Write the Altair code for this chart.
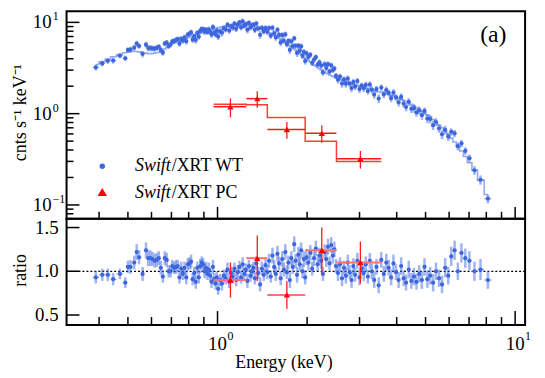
import altair as alt
import numpy as np
import pandas as pd

FONT = "Liberation Serif"

# ---------------- Swift/XRT WT spectrum ----------------
wt_energy = [
    0.390, 0.410, 0.428, 0.446, 0.470, 0.490, 0.500, 0.510, 0.525, 0.535,
    0.545, 0.560, 0.575, 0.585, 0.595, 0.605, 0.615, 0.625, 0.635, 0.645,
    0.655, 0.665, 0.675, 0.685, 0.695,
    0.705, 0.715, 0.725, 0.735, 0.745, 0.755, 0.765, 0.775, 0.785, 0.795,
    0.805, 0.815, 0.825, 0.835, 0.845, 0.855, 0.865, 0.875, 0.885, 0.895,
    0.905, 0.915, 0.925, 0.935, 0.945, 0.955, 0.965, 0.975, 0.985, 0.995,
    1.005, 1.020, 1.035, 1.050, 1.065, 1.080, 1.095, 1.110, 1.125, 1.140,
    1.155, 1.170, 1.185, 1.200, 1.215, 1.230, 1.245, 1.260, 1.275, 1.290,
    1.305, 1.320, 1.335, 1.350, 1.370, 1.390, 1.410, 1.430, 1.450, 1.470,
    1.490, 1.510, 1.530, 1.550, 1.570, 1.590, 1.610, 1.630, 1.650, 1.670,
    1.690, 1.710, 1.730, 1.750, 1.770, 1.790, 1.810, 1.830, 1.850, 1.870,
    1.890, 1.910, 1.930, 1.950, 1.970, 1.990,
    2.02, 2.05, 2.08, 2.11, 2.14, 2.17, 2.20, 2.23, 2.26, 2.29,
    2.32, 2.35, 2.38, 2.41, 2.44, 2.47, 2.50, 2.54, 2.58, 2.62,
    2.66, 2.70, 2.74, 2.78, 2.82, 2.86, 2.90, 2.95, 3.00, 3.05,
    3.10, 3.15, 3.20, 3.25, 3.30, 3.36, 3.42, 3.48,
    3.55, 3.62, 3.69, 3.76, 3.83, 3.90, 3.98, 4.06, 4.14, 4.22,
    4.30, 4.39, 4.48, 4.57, 4.66, 4.76, 4.86, 4.96, 5.07, 5.18,
    5.30, 5.42, 5.55, 5.68, 5.82, 5.96, 6.10, 6.26, 6.42, 6.60,
    6.80, 7.02, 7.30, 7.65, 8.10,
]

wt_model = [
    3.45, 3.70, 3.95, 4.20, 4.45, 4.65, 4.75, 4.80, 4.80, 4.80,
    4.75, 4.65, 4.60, 4.55, 4.55, 4.55, 4.60, 4.65, 4.70, 4.80,
    4.95, 5.10, 5.30, 5.50, 5.70,
    5.85, 6.00, 6.10, 6.20, 6.30, 6.40, 6.50, 6.60, 6.70, 6.80,
    6.90, 7.00, 7.10, 7.20, 7.30, 7.40, 7.50, 7.60, 7.70, 7.80,
    7.90, 8.00, 8.10, 8.20, 8.30, 8.35, 8.45, 8.55, 8.60, 8.70,
    8.75, 8.85, 8.95, 9.05, 9.10, 9.20, 9.25, 9.30, 9.35, 9.40,
    9.45, 9.50, 9.50, 9.50, 9.50, 9.45, 9.40, 9.35, 9.30, 9.25,
    9.20, 9.10, 9.00, 8.90, 8.75, 8.60, 8.45, 8.30, 8.10, 7.95,
    7.75, 7.60, 7.40, 7.25, 7.05, 6.90, 6.70, 6.55, 6.35, 6.20,
    6.05, 5.85, 5.70, 5.55, 5.40, 5.25, 5.10, 4.95, 4.80, 4.65,
    4.55, 4.40, 4.30, 4.15, 4.05, 3.95,
    3.80, 3.65, 3.50, 3.40, 3.30, 3.20, 3.10, 3.00, 2.92, 2.85,
    2.78, 2.72, 2.66, 2.60, 2.55, 2.50, 2.45, 2.40, 2.36, 2.32,
    2.28, 2.24, 2.20, 2.16, 2.12, 2.09, 2.06, 2.03, 2.00, 1.97,
    1.94, 1.91, 1.88, 1.86, 1.83, 1.80, 1.77, 1.74,
    1.71, 1.68, 1.65, 1.62, 1.59, 1.56, 1.52, 1.48, 1.44, 1.40,
    1.36, 1.32, 1.27, 1.22, 1.17, 1.12, 1.07, 1.02, 0.97, 0.92,
    0.86, 0.81, 0.75, 0.70, 0.64, 0.59, 0.54, 0.49, 0.44, 0.39,
    0.34, 0.29, 0.24, 0.185, 0.13,
]

wt_ratio = [
    0.93, 0.96, 0.96, 0.91, 0.97, 0.87, 1.05, 1.05, 1.10, 1.22,
    1.16, 0.97, 1.24, 1.15, 1.15, 1.14, 1.12, 1.13, 1.15, 1.04,
    0.94, 1.15, 1.13, 1.00, 1.00,
    1.06, 1.04, 1.05, 1.06, 0.93, 1.03, 0.97, 1.04, 0.93, 1.08,
    1.09, 1.11, 0.91, 0.98, 0.88, 1.04, 0.93, 1.06, 1.10, 1.08,
    1.00, 1.04, 0.97, 1.02, 0.95, 0.88, 1.05, 0.91, 0.86, 0.93,
    0.80, 0.90, 0.86, 0.95, 0.92, 1.02, 0.88, 0.98, 0.94, 1.03,
    0.90, 0.99, 1.05, 0.93, 1.08, 0.97, 1.02, 0.89, 1.06, 0.95,
    1.00, 1.04, 0.92, 1.09, 0.98, 0.85, 1.03, 0.96, 1.07, 0.99,
    1.12, 0.94, 1.18, 1.05, 0.97, 1.20, 1.09, 0.92, 1.14, 1.02,
    1.22, 0.99, 1.10, 0.90, 1.15, 1.05, 1.31, 1.12, 0.96, 1.19,
    1.08, 1.24, 1.00, 1.14, 0.93, 1.16,
    1.10, 1.21, 1.03, 1.15, 1.26, 1.08, 1.18, 1.12, 0.97, 1.22,
    1.14, 1.28, 1.09, 1.30, 1.18, 1.25, 1.06, 0.98, 1.08, 0.92,
    1.04, 0.95, 1.10, 0.99, 0.90, 1.06, 0.96, 1.12, 0.93, 1.03,
    0.98, 1.08, 0.94, 1.12, 1.00, 0.90, 1.05, 0.84,
    1.13, 0.97, 1.10, 1.04, 0.93, 1.09, 0.99, 0.90, 1.06, 0.92,
    0.87, 1.02, 0.89, 0.94, 0.88, 0.97, 0.90, 1.05, 0.91, 0.95,
    0.87, 1.00, 0.92, 0.85, 1.04, 0.95, 1.17, 1.24, 1.00, 1.21,
    1.15, 1.12, 1.00, 1.02, 0.90,
]

wt_ratio_err = [
    0.07, 0.07, 0.07, 0.07, 0.06, 0.06, 0.07, 0.08, 0.08, 0.09,
    0.08, 0.08, 0.09, 0.09, 0.09, 0.08, 0.08, 0.08, 0.08, 0.08,
    0.07, 0.08, 0.08, 0.07, 0.07,
    0.07, 0.07, 0.08, 0.07, 0.07, 0.08, 0.07, 0.07, 0.08, 0.07,
    0.07, 0.08, 0.07, 0.07, 0.08, 0.07, 0.07, 0.08, 0.07, 0.07,
    0.08, 0.07, 0.07, 0.08, 0.07, 0.07, 0.08, 0.07, 0.07, 0.07,
    0.07, 0.07, 0.08, 0.07, 0.07, 0.08, 0.07, 0.07, 0.08, 0.07,
    0.07, 0.08, 0.07, 0.07, 0.08, 0.07, 0.07, 0.08, 0.07, 0.07,
    0.08, 0.07, 0.07, 0.08, 0.07, 0.08, 0.08, 0.07, 0.08, 0.08,
    0.08, 0.07, 0.09, 0.08, 0.08, 0.09, 0.08, 0.08, 0.09, 0.08,
    0.09, 0.08, 0.08, 0.09, 0.08, 0.08, 0.09, 0.08, 0.09, 0.09,
    0.08, 0.09, 0.08, 0.09, 0.08, 0.09,
    0.09, 0.09, 0.08, 0.09, 0.09, 0.08, 0.09, 0.09, 0.08, 0.09,
    0.09, 0.09, 0.08, 0.09, 0.09, 0.09, 0.08, 0.09, 0.08, 0.09,
    0.08, 0.09, 0.09, 0.08, 0.09, 0.09, 0.08, 0.09, 0.09, 0.08,
    0.09, 0.09, 0.08, 0.09, 0.09, 0.09, 0.09, 0.09,
    0.09, 0.09, 0.10, 0.09, 0.09, 0.10, 0.09, 0.09, 0.10, 0.09,
    0.09, 0.10, 0.09, 0.10, 0.09, 0.10, 0.10, 0.10, 0.10, 0.10,
    0.10, 0.10, 0.10, 0.10, 0.11, 0.10, 0.11, 0.11, 0.10, 0.11,
    0.11, 0.11, 0.11, 0.12, 0.10,
]

# ---------------- Swift/XRT PC spectrum ----------------
pc_energy = [1.105, 1.36, 1.71, 2.24, 3.02]
pc_lo = [0.97, 1.25, 1.47, 1.97, 2.51]
pc_hi = [1.25, 1.47, 1.97, 2.51, 3.55]
pc_counts = [1.19, 1.46, 0.67, 0.61, 0.32]
pc_counts_err = [0.28, 0.30, 0.14, 0.13, 0.07]
pc_model = [1.27, 1.25, 0.91, 0.50, 0.30]
pc_ratio = [0.90, 1.15, 0.73, 1.24, 1.10]
pc_ratio_err = [0.20, 0.26, 0.16, 0.26, 0.24]

# ticks and tick labels
x_major = [1, 10]
x_exp = ["0", "1"]
x_minor = [0.4, 0.5, 0.6, 0.7, 0.8, 0.9, 2, 3, 4, 5, 6, 7, 8, 9]
y_major = [0.1, 1, 10]
y_exp = ["\u22121", "0", "1"]
y_minor = [0.08, 0.09, 0.2, 0.3, 0.4, 0.5, 0.6, 0.7, 0.8, 0.9,
           2, 3, 4, 5, 6, 7, 8, 9]
r_major = [0.5, 1.0, 1.5]
r_labels = ["0.5", "1.0", "1.5"]

# ---------------- tables ----------------
e = np.array(wt_energy)
mids = np.sqrt(e[1:] * e[:-1])
wt = pd.DataFrame({
    "E": e,
    "lo": np.concatenate([[e[0] ** 2 / mids[0]], mids]),
    "hi": np.concatenate([mids, [e[-1] ** 2 / mids[-1]]]),
    "M": wt_model,
    "R": wt_ratio,
    "err": wt_ratio_err,
})
wt["C"] = wt.M * wt.R
wt["Clo"] = wt.C - wt.err * wt.M
wt["Chi"] = wt.C + wt.err * wt.M
wt["Rlo"] = wt.R - wt.err
wt["Rhi"] = wt.R + wt.err

pc = pd.DataFrame({
    "E": pc_energy, "lo": pc_lo, "hi": pc_hi,
    "C": pc_counts, "Ce": pc_counts_err,
    "R": pc_ratio, "Re": pc_ratio_err,
})
pc["Clo"] = pc.C - pc.Ce
pc["Chi"] = pc.C + pc.Ce
pc["Rlo"] = pc.R - pc.Re
pc["Rhi"] = pc.R + pc.Re
pc_step = pd.DataFrame({"E": pc_lo + [pc_hi[-1]], "M": pc_model + [pc_model[-1]]})

xt = pd.DataFrame({"v": x_major, "ex": x_exp, "base": ["10", "10"]})
yt = pd.DataFrame({"v": y_major, "ex": y_exp, "base": ["10", "10", "10"]})
rt = pd.DataFrame({"v": r_major, "lab": r_labels})

# ---------------- scales ----------------
W = 462
H1 = 209
H2 = 107
BLUE = "#3d66de"
BLUE_ERR = "#4169e1"
RED = "#ff0000"

xs = alt.Scale(type="log", domain=[0.311, 10.8], nice=False)
ys = alt.Scale(type="log", domain=[0.0705, 13.2], nice=False)
rs = alt.Scale(domain=[0.386, 1.60], nice=False, zero=False)


def X(f):
    return alt.X(f, type="quantitative", scale=xs, axis=None)


def TY(f):
    return alt.Y(f, type="quantitative", scale=ys, axis=None)


def BY(f):
    return alt.Y(f, type="quantitative", scale=rs, axis=None)


def one(**kw):
    return alt.Chart(pd.DataFrame([kw]))


def text(size=18, **kw):
    base = dict(font=FONT, fontSize=size, color="black", baseline="middle")
    base.update(kw)
    return base


# ---------------- top panel ----------------
t_model = alt.Chart(wt).mark_line(interpolate="step", color="#93aaf0", strokeWidth=1.6).encode(
    x=X("E"), y=TY("M"))
t_yerr = alt.Chart(wt).mark_rule(color=BLUE_ERR, opacity=0.5, strokeWidth=2.5).encode(
    x=X("E"), y=TY("Clo"), y2="Chi")
t_xerr = alt.Chart(wt).mark_rule(color=BLUE_ERR, opacity=0.6, strokeWidth=1.2).encode(
    x=X("lo"), x2="hi", y=TY("C"))
t_pts = alt.Chart(wt).mark_circle(size=18, color=BLUE, opacity=1).encode(x=X("E"), y=TY("C"))

t_pcmodel = alt.Chart(pc_step).mark_line(interpolate="step-after", color="#ff3c3c",
                                         strokeWidth=1.5).encode(x=X("E"), y=TY("M"))
t_pcx = alt.Chart(pc).mark_rule(color="#ff1a1a", strokeWidth=1.5).encode(
    x=X("lo"), x2="hi", y=TY("C"))
t_pcy = alt.Chart(pc).mark_rule(color="#ff1a1a", strokeWidth=1.3).encode(
    x=X("E"), y=TY("Clo"), y2="Chi")
t_pcpts = alt.Chart(pc).mark_point(shape="triangle-up", filled=True, size=40,
                                   color=RED, opacity=1).encode(x=X("E"), y=TY("C"))

t_xmaj = alt.Chart(xt).mark_rule(color="black", strokeWidth=1.5).encode(
    x=X("v"), y=alt.value(H1), y2=alt.value(H1 - 12))
t_xmin = alt.Chart(pd.DataFrame({"v": x_minor})).mark_rule(color="black", strokeWidth=1.5).encode(
    x=X("v"), y=alt.value(H1), y2=alt.value(H1 - 7))
t_ymaj = alt.Chart(yt).mark_rule(color="black", strokeWidth=1.5).encode(
    y=TY("v"), x=alt.value(0), x2=alt.value(13))
t_ymin = alt.Chart(pd.DataFrame({"v": y_minor})).mark_rule(color="black", strokeWidth=1.5).encode(
    y=TY("v"), x=alt.value(0), x2=alt.value(7))

# y tick labels 10^n
t_ylab = alt.Chart(yt).mark_text(**text(19, align="right")).encode(
    y=TY("v"), x=alt.value(-15), text="base:N")
t_yexp = alt.Chart(yt).mark_text(**text(12, align="left", dy=-6)).encode(
    y=TY("v"), x=alt.value(-14), text="ex:N")
t_ytitle = one(t="cnts s\u207b\u00b9 keV\u207b\u00b9").mark_text(
    **text(18, align="center", angle=270)).encode(
    text="t:N", x=alt.value(-46), y=alt.value(102))

leg = [
    one(t="wt").mark_circle(size=30, color=BLUE, opacity=1).encode(x=alt.value(36), y=alt.value(156)),
    one(t="pc").mark_point(shape="triangle-up", filled=True, size=90, color=RED, opacity=1).encode(
        x=alt.value(36), y=alt.value(182)),
    one(t="Swift").mark_text(**text(18, align="left", fontStyle="italic")).encode(
        text="t:N", x=alt.value(69), y=alt.value(156)),
    one(t="/XRT WT").mark_text(**text(18, align="left")).encode(
        text="t:N", x=alt.value(106), y=alt.value(156)),
    one(t="Swift").mark_text(**text(18, align="left", fontStyle="italic")).encode(
        text="t:N", x=alt.value(69), y=alt.value(183)),
    one(t="/XRT PC").mark_text(**text(18, align="left")).encode(
        text="t:N", x=alt.value(106), y=alt.value(183)),
    one(t="(a)").mark_text(**text(24, align="center")).encode(
        text="t:N", x=alt.value(430), y=alt.value(24)),
]

top = alt.layer(t_model, t_yerr, t_xerr, t_pts, t_pcmodel, t_pcx, t_pcy, t_pcpts,
                t_xmaj, t_xmin, t_ymaj, t_ymin, t_ylab, t_yexp, t_ytitle,
                *leg).properties(width=W, height=H1)

# ---------------- ratio panel ----------------
b_one = alt.Chart(pd.DataFrame({"v": [1.0]})).mark_rule(
    color="black", strokeDash=[2, 2], strokeWidth=1.3).encode(
    y=BY("v"), x=alt.value(0), x2=alt.value(W))
b_yerr = alt.Chart(wt).mark_rule(color=BLUE_ERR, opacity=0.5, strokeWidth=2.5).encode(
    x=X("E"), y=BY("Rlo"), y2="Rhi")
b_xerr = alt.Chart(wt).mark_rule(color=BLUE_ERR, opacity=0.6, strokeWidth=1.2).encode(
    x=X("lo"), x2="hi", y=BY("R"))
b_pts = alt.Chart(wt).mark_circle(size=18, color=BLUE, opacity=1).encode(x=X("E"), y=BY("R"))
b_pcx = alt.Chart(pc).mark_rule(color="#ff7070", strokeWidth=2).encode(
    x=X("lo"), x2="hi", y=BY("R"))
b_pcy = alt.Chart(pc).mark_rule(color="#ff1a1a", strokeWidth=1.3).encode(
    x=X("E"), y=BY("Rlo"), y2="Rhi")
b_pcpts = alt.Chart(pc).mark_point(shape="triangle-up", filled=True, size=40,
                                   color=RED, opacity=1).encode(x=X("E"), y=BY("R"))
b_xmaj = alt.Chart(xt).mark_rule(color="black", strokeWidth=1.5).encode(
    x=X("v"), y=alt.value(H2), y2=alt.value(H2 - 14))
b_xmin = alt.Chart(pd.DataFrame({"v": x_minor})).mark_rule(color="black", strokeWidth=1.5).encode(
    x=X("v"), y=alt.value(H2), y2=alt.value(H2 - 8))
b_ymaj = alt.Chart(rt).mark_rule(color="black", strokeWidth=1.5).encode(
    y=BY("v"), x=alt.value(0), x2=alt.value(13))

b_rlab = alt.Chart(rt).mark_text(**text(19, align="right")).encode(
    y=BY("v"), x=alt.value(-8), text="lab:N")
b_xlab = alt.Chart(xt).mark_text(**text(19, align="center")).encode(
    x=X("v"), y=alt.value(H2 + 19), text="base:N")
b_xexp = alt.Chart(xt).mark_text(**text(12, align="left", dx=10)).encode(
    x=X("v"), y=alt.value(H2 + 11), text="ex:N")
b_ytitle = one(t="ratio").mark_text(**text(18, align="center", angle=270)).encode(
    text="t:N", x=alt.value(-46), y=alt.value(52))
b_xtitle = one(t="Energy (keV)").mark_text(**text(18, align="center")).encode(
    text="t:N", x=alt.value(219), y=alt.value(H2 + 38))

bottom = alt.layer(b_one, b_yerr, b_xerr, b_pts, b_pcx, b_pcy, b_pcpts,
                   b_xmaj, b_xmin, b_ymaj, b_rlab, b_xlab, b_xexp, b_ytitle,
                   b_xtitle).properties(width=W, height=H2)

chart = alt.vconcat(top, bottom, spacing=0, bounds="flush").properties(
    padding={"left": 3, "top": 0, "right": 5, "bottom": 2}
).configure_view(stroke="black", strokeWidth=2)

chart.save("out.html", embed_options={"renderer": "svg", "actions": False})
